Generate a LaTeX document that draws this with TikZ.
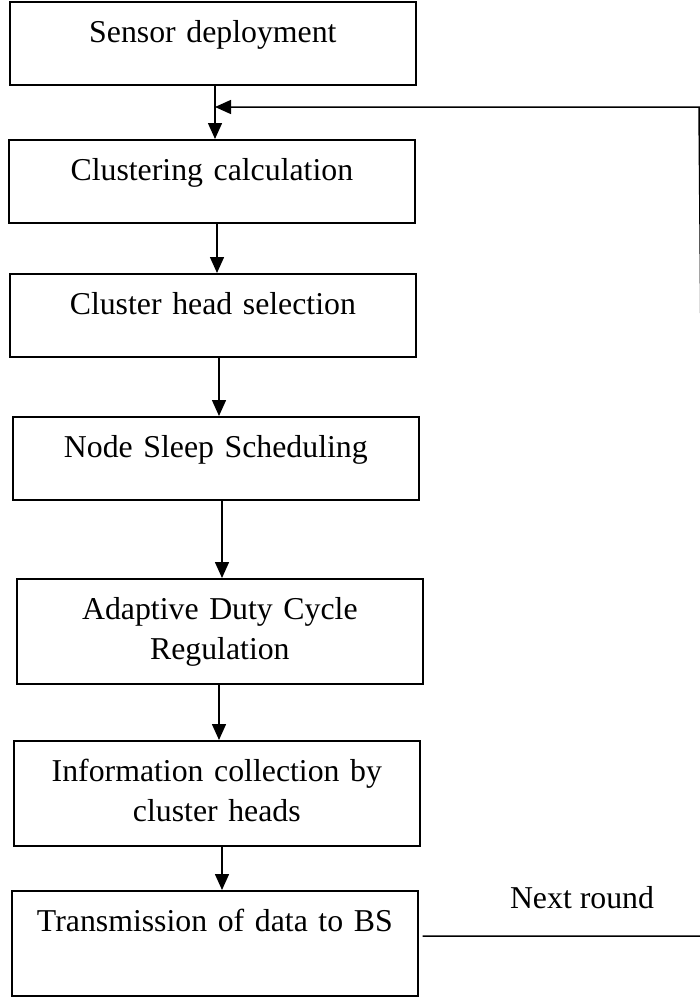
\documentclass[tikz,border=0pt]{standalone}
\usepackage{fontspec}
\setmainfont{Liberation Serif}
\usetikzlibrary{arrows.meta}

\begin{document}
\begin{tikzpicture}[x=1pt,y=-1pt,>={Triangle[length=16pt,width=14pt]},
  box/.style={draw, line width=1.7pt, anchor=north west, inner xsep=0pt, inner ysep=0pt,
    text width=406pt, align=center, text height=41pt, text depth=42pt,
    font=\fontsize{31.8}{39.5}\selectfont},
  tallbox/.style={box, text depth=64pt},
  flow/.style={line width=1.5pt,->}]

\useasboundingbox (0,0) rectangle (700,998);

% Draw the steps of one round
\node[box] (deploy) at (9,1) {Sensor deployment};
\node[box] (clustering) at (8,139) {Clustering calculation};
\node[box] (headsel) at (9,273) {Cluster head selection};
\node[box] (sleep) at (12,416) {Node Sleep Scheduling};
\node[tallbox] (duty) at (16,578) {Adaptive Duty Cycle\\Regulation};
\node[tallbox] (collect) at (13,740) {Information collection by\\cluster heads};
\node[tallbox] (send) at (11,890) {Transmission of data to BS};

% Draw the arrows from step to step
\foreach \a/\b/\x in {deploy/clustering/215, clustering/headsel/217, headsel/sleep/219,
  sleep/duty/222, duty/collect/219, collect/send/222}
\draw[flow] (\x,0 |- \a.south) -- (\x,0 |- \b.north);

% Draw the loop back to the next round (its right side runs off the page)
\coordinate (join) at (215,107);
\coordinate (rbot) at (706,936);
\coordinate (rtop) at (699,107);
\draw[flow,shorten <=4pt] (send.east |- rbot) -- (rbot) -- (rtop) -- (join);
\node[anchor=base,font=\fontsize{31.8}{39.5}\selectfont] (nextround) at (582,908) {Next round};

\end{tikzpicture}
\end{document}
